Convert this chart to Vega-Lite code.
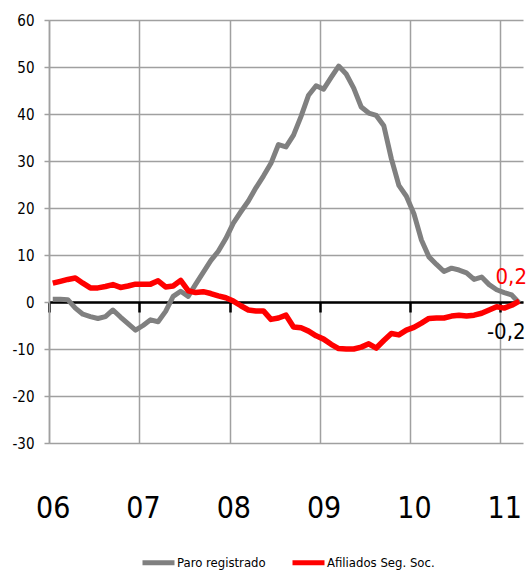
{
  "$schema": "https://vega.github.io/schema/vega-lite/v6.json",
  "width": 474,
  "height": 423,
  "autosize": {"type": "none"},
  "padding": {"left": 49, "top": 20, "right": 6, "bottom": 127},
  "config": {
    "view": {"stroke": null},
    "font": "DejaVu Sans Condensed, sans-serif",
    "locale": {"number": {"decimal": ",", "thousands": ".", "grouping": [3], "currency": ["", " €"], "minus": "-"}}
  },
  "data": {"values": [
    {"m": 0, "paro": 0.6, "afiliados": 4.0},
    {"m": 1, "paro": 0.6, "afiliados": 4.4},
    {"m": 2, "paro": 0.5, "afiliados": 4.8},
    {"m": 3, "paro": -1.3, "afiliados": 5.1},
    {"m": 4, "paro": -2.6, "afiliados": 4.0},
    {"m": 5, "paro": -3.1, "afiliados": 3.0},
    {"m": 6, "paro": -3.5, "afiliados": 3.0},
    {"m": 7, "paro": -3.1, "afiliados": 3.3},
    {"m": 8, "paro": -1.7, "afiliados": 3.7},
    {"m": 9, "paro": -3.2, "afiliados": 3.1},
    {"m": 10, "paro": -4.6, "afiliados": 3.4},
    {"m": 11, "paro": -6.0, "afiliados": 3.8},
    {"m": 12, "paro": -5.0, "afiliados": 3.8},
    {"m": 13, "paro": -3.8, "afiliados": 3.8},
    {"m": 14, "paro": -4.2, "afiliados": 4.5},
    {"m": 15, "paro": -2.0, "afiliados": 3.2},
    {"m": 16, "paro": 1.2, "afiliados": 3.4},
    {"m": 17, "paro": 2.3, "afiliados": 4.6},
    {"m": 18, "paro": 1.2, "afiliados": 2.4},
    {"m": 19, "paro": 3.8, "afiliados": 2.0},
    {"m": 20, "paro": 6.3, "afiliados": 2.2},
    {"m": 21, "paro": 8.8, "afiliados": 1.8},
    {"m": 22, "paro": 10.8, "afiliados": 1.3},
    {"m": 23, "paro": 13.5, "afiliados": 0.9},
    {"m": 24, "paro": 16.8, "afiliados": 0.2},
    {"m": 25, "paro": 19.2, "afiliados": -0.8},
    {"m": 26, "paro": 21.5, "afiliados": -1.7},
    {"m": 27, "paro": 24.3, "afiliados": -1.9},
    {"m": 28, "paro": 26.8, "afiliados": -1.9},
    {"m": 29, "paro": 29.5, "afiliados": -3.7},
    {"m": 30, "paro": 33.5, "afiliados": -3.4},
    {"m": 31, "paro": 33.0, "afiliados": -2.8},
    {"m": 32, "paro": 35.5, "afiliados": -5.3},
    {"m": 33, "paro": 39.5, "afiliados": -5.5},
    {"m": 34, "paro": 44.0, "afiliados": -6.2},
    {"m": 35, "paro": 46.0, "afiliados": -7.2},
    {"m": 36, "paro": 45.3, "afiliados": -7.9},
    {"m": 37, "paro": 47.8, "afiliados": -9.0},
    {"m": 38, "paro": 50.2, "afiliados": -9.9},
    {"m": 39, "paro": 48.5, "afiliados": -10.0},
    {"m": 40, "paro": 45.5, "afiliados": -10.0},
    {"m": 41, "paro": 41.5, "afiliados": -9.6},
    {"m": 42, "paro": 40.2, "afiliados": -8.9},
    {"m": 43, "paro": 39.7, "afiliados": -9.8},
    {"m": 44, "paro": 37.5, "afiliados": -8.2},
    {"m": 45, "paro": 30.5, "afiliados": -6.7},
    {"m": 46, "paro": 24.8, "afiliados": -7.0},
    {"m": 47, "paro": 22.5, "afiliados": -6.0},
    {"m": 48, "paro": 18.8, "afiliados": -5.4},
    {"m": 49, "paro": 13.2, "afiliados": -4.5},
    {"m": 50, "paro": 9.6, "afiliados": -3.5},
    {"m": 51, "paro": 8.0, "afiliados": -3.4},
    {"m": 52, "paro": 6.5, "afiliados": -3.4},
    {"m": 53, "paro": 7.2, "afiliados": -3.0},
    {"m": 54, "paro": 6.8, "afiliados": -2.8},
    {"m": 55, "paro": 6.2, "afiliados": -3.0},
    {"m": 56, "paro": 4.8, "afiliados": -2.8},
    {"m": 57, "paro": 5.3, "afiliados": -2.4},
    {"m": 58, "paro": 3.7, "afiliados": -1.7},
    {"m": 59, "paro": 2.6, "afiliados": -1.0},
    {"m": 60, "paro": 2.0, "afiliados": -1.3},
    {"m": 61, "paro": 1.5, "afiliados": -0.7},
    {"m": 62, "paro": -0.2, "afiliados": 0.2}
  ]},
  "layer": [
    {
      "mark": {"type": "line", "strokeWidth": 5, "strokeJoin": "round"},
      "encoding": {
        "x": {
          "field": "m", "type": "quantitative",
          "scale": {"domain": [-0.5, 62.5], "nice": false, "zero": false},
          "axis": {
            "orient": "bottom", "offset": -141, "title": null,
            "values": [-0.5, 11.5, 23.5, 35.5, 47.5, 59.5],
            "grid": false,
            "domainColor": "#000000", "domainWidth": 2.5,
            "tickColor": "#000000", "tickWidth": 2.5, "tickSize": 10,
            "labelExpr": "['06','07','08','09','10','11'][round((datum.value + 0.5) / 12)]",
            "labelOffset": 3.76, "labelFontSize": 30, "labelPadding": 181,
            "labelColor": "#000000", "labelFlush": false, "labelOverlap": false
          }
        },
        "y": {
          "field": "paro", "type": "quantitative",
          "scale": {"domain": [-30, 60], "nice": false},
          "axis": {
            "title": null,
            "values": [-30, -20, -10, 0, 10, 20, 30, 40, 50, 60],
            "grid": true, "gridColor": "#a0a0a0", "gridWidth": 1.5,
            "domainColor": "#a0a0a0", "domainWidth": 1.5,
            "tickColor": "#a0a0a0", "tickWidth": 1.5, "tickSize": 5,
            "labelFontSize": 15, "labelPadding": 10, "labelColor": "#000000"
          }
        },
        "color": {
          "datum": "Paro registrado", "type": "nominal",
          "scale": {"domain": ["Paro registrado", "Afiliados Seg. Soc."], "range": ["#808080", "#ff0000"]},
          "legend": {
            "orient": "none", "legendX": 91, "legendY": 524,
            "direction": "horizontal", "title": null,
            "symbolType": "stroke", "symbolSize": 1024, "symbolStrokeWidth": 5,
            "labelFontSize": 13, "labelColor": "#000000", "labelOffset": 0,
            "columnPadding": 16
          }
        }
      }
    },
    {
      "mark": {"type": "line", "strokeWidth": 5.5, "strokeJoin": "round"},
      "encoding": {
        "x": {
          "field": "m", "type": "quantitative",
          "axis": {
            "orient": "top", "title": null,
            "values": [-0.5, 11.5, 23.5, 35.5, 47.5, 59.5],
            "grid": true, "gridColor": "#a0a0a0", "gridWidth": 1.5,
            "domain": false, "ticks": false, "labels": false
          }
        },
        "y": {"field": "afiliados", "type": "quantitative", "axis": null},
        "color": {"datum": "Afiliados Seg. Soc.", "type": "nominal"}
      }
    },
    {
      "transform": [{"filter": "datum.m == 62"}],
      "mark": {"type": "text", "fontSize": 22, "color": "#ff0000", "dx": -8, "dy": -24, "align": "center", "baseline": "middle"},
      "encoding": {
        "x": {"field": "m", "type": "quantitative", "axis": null},
        "y": {"field": "afiliados", "type": "quantitative", "axis": null},
        "text": {"field": "afiliados", "type": "quantitative", "format": ".1f"}
      }
    },
    {
      "transform": [{"filter": "datum.m == 62"}],
      "mark": {"type": "text", "fontSize": 22, "color": "#000000", "dx": -13, "dy": 29, "align": "center", "baseline": "middle"},
      "encoding": {
        "x": {"field": "m", "type": "quantitative", "axis": null},
        "y": {"field": "paro", "type": "quantitative", "axis": null},
        "text": {"field": "paro", "type": "quantitative", "format": ".1f"}
      }
    }
  ],
  "resolve": {"axis": {"x": "independent", "y": "independent"}}
}
